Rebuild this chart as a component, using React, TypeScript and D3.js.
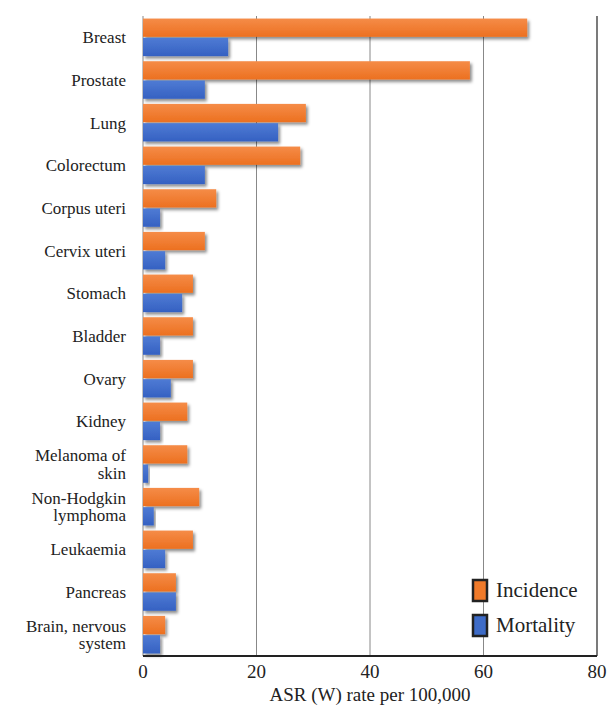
import * as d3 from 'd3';

const categories = [
  'Breast', 'Prostate', 'Lung', 'Colorectum', 'Corpus uteri', 'Cervix uteri', 'Stomach',
  'Bladder', 'Ovary', 'Kidney', 'Melanoma of\nskin', 'Non-Hodgkin\nlymphoma', 'Leukaemia',
  'Pancreas', 'Brain, nervous\nsystem',
];
const incidence = [67.7, 57.6, 28.7, 27.7, 12.9, 10.9, 8.8, 8.8, 8.8, 7.8, 7.8, 9.9, 8.8, 5.8, 3.9];
const mortality = [15.0, 10.9, 23.8, 10.9, 3.0, 3.9, 6.9, 3.0, 4.9, 3.0, 0.9, 1.9, 3.9, 5.8, 3.0];
const ticks = [0, 20, 40, 60, 80];
const seriesNames = ['Incidence', 'Mortality'];

const W = 608;
const H = 707;
const margin = { top: 16, right: 11, bottom: 51, left: 143 };
const font = "'Liberation Serif', 'DejaVu Serif', 'Noto Serif', FreeSerif, Tinos, serif";

export default function App() {
  const w = W - margin.left - margin.right;
  const h = H - margin.top - margin.bottom;
  const x = d3.scaleLinear().domain([0, 80]).range([0, w]);
  const y = d3.scaleBand().domain(categories).range([0, h]).paddingInner(0.12).paddingOuter(0.06);
  const bh = y.bandwidth() / 2;

  return (
    <svg width={W} height={H} style={{ position: 'absolute', left: 0, top: 0, fontFamily: font }}>
      <defs>
        <linearGradient id="gOr" x1="0" y1="0" x2="0" y2="1">
          <stop offset="0" stopColor="#F58C48" />
          <stop offset="1" stopColor="#EC7020" />
        </linearGradient>
        <linearGradient id="gBl" x1="0" y1="0" x2="0" y2="1">
          <stop offset="0" stopColor="#4F7BD4" />
          <stop offset="1" stopColor="#3561C2" />
        </linearGradient>
        <filter id="sh" x="-10%" y="-30%" width="130%" height="180%">
          <feDropShadow dx="2" dy="2.5" stdDeviation="1.6" floodColor="#000" floodOpacity="0.45" />
        </filter>
      </defs>
      <g transform={`translate(${margin.left},${margin.top})`}>
        {ticks.map((t) => (
          <line key={t} x1={x(t)} x2={x(t)} y1={0} y2={h} stroke={t === 80 ? '#333' : '#888'} strokeWidth={t === 80 ? 1.3 : 1} />
        ))}
        {categories.map((c, i) => (
          <g key={c}>
            <rect x={x(0)} y={y(c)!} width={x(incidence[i]) - x(0)} height={bh - 0.5} fill="url(#gOr)" filter="url(#sh)" />
            <rect x={x(0)} y={y(c)! + bh + 0.5} width={x(mortality[i]) - x(0)} height={bh - 0.5} fill="url(#gBl)" filter="url(#sh)" />
          </g>
        ))}
        <line x1={0} x2={w} y1={h} y2={h} stroke="#222" strokeWidth={2} />
        {categories.map((c) => {
          const lines = c.split('\n');
          const cy = y(c)! + y.bandwidth() / 2;
          return lines.map((l, k) => (
            <text key={c + k} x={-17} y={cy + 6 + (k - (lines.length - 1) / 2) * 17.5} textAnchor="end" fontSize={17} fill="#222">{l}</text>
          ));
        })}
        {ticks.map((t) => (
          <text key={t} x={x(t)} y={h + 22} textAnchor="middle" fontSize={19} fill="#222">{t}</text>
        ))}
        <text x={w / 2} y={h + 45} textAnchor="middle" fontSize={19} fill="#222">ASR (W) rate per 100,000</text>
        {seriesNames.map((s, i) => (
          <g key={s} transform={`translate(${330},${564 + i * 35})`}>
            <rect x={0} y={0} width={14} height={21} fill={i === 0 ? '#F07A2A' : '#3E6CC8'} stroke="#222" strokeWidth={2.5} />
            <text x={23} y={17} fontSize={21} fill="#222">{s}</text>
          </g>
        ))}
      </g>
    </svg>
  );
}
